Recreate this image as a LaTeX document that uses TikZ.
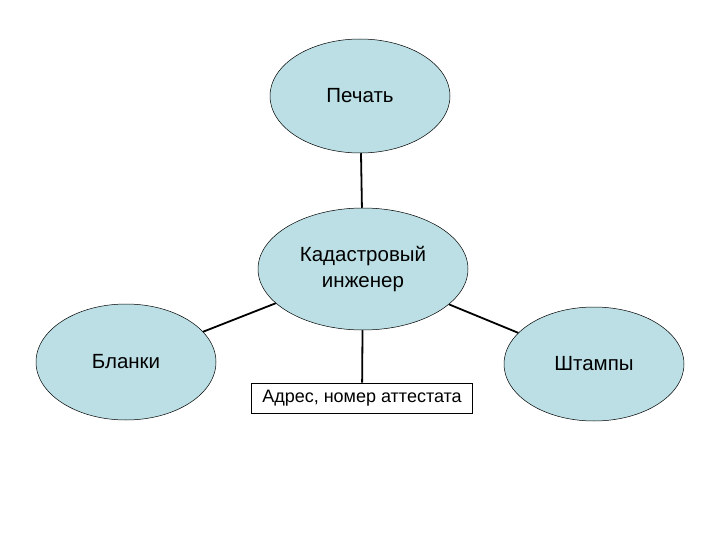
\documentclass[tikz,border=0pt]{standalone}
\usepackage{fontspec}
\setmainfont{Liberation Sans}
\usetikzlibrary{shapes.geometric}
\definecolor{ovalblue}{RGB}{187,223,228}

\begin{document}
\begin{tikzpicture}[x=1pt,y=-1pt,
  oval/.style={ellipse, draw=black, line width=0.5pt, fill=ovalblue, inner sep=0pt,
    font=\fontsize{20.5}{26}\selectfont, align=center},
  link/.style={draw=black, line width=1.8pt}]
\useasboundingbox (0,0) rectangle (720,540);
% Ovals
\node[oval, minimum width=210, minimum height=122] (kadastr) at (363,269) {Кадастровый\\инженер};
\node[oval, minimum width=180, minimum height=114] (pechat) at (360,96) {Печать};
\node[oval, minimum width=180, minimum height=116] (blanki) at (126,362) {Бланки};
\node[oval, minimum width=180, minimum height=114] (shtampy) at (594,364) {Штампы};
% Label box
\node[draw=black, line width=0.8pt, fill=white, minimum width=221, minimum height=30,
  inner sep=0pt, font=\fontsize{18}{22}\selectfont] (adres) at (362,398) {Адрес, номер аттестата};
% Connectors
\draw[link] (pechat) -- (kadastr);
\draw[link] (blanki) -- (kadastr);
\draw[link] (shtampy) -- (kadastr);
\draw[link] (kadastr) -- (adres);
\end{tikzpicture}
\end{document}
